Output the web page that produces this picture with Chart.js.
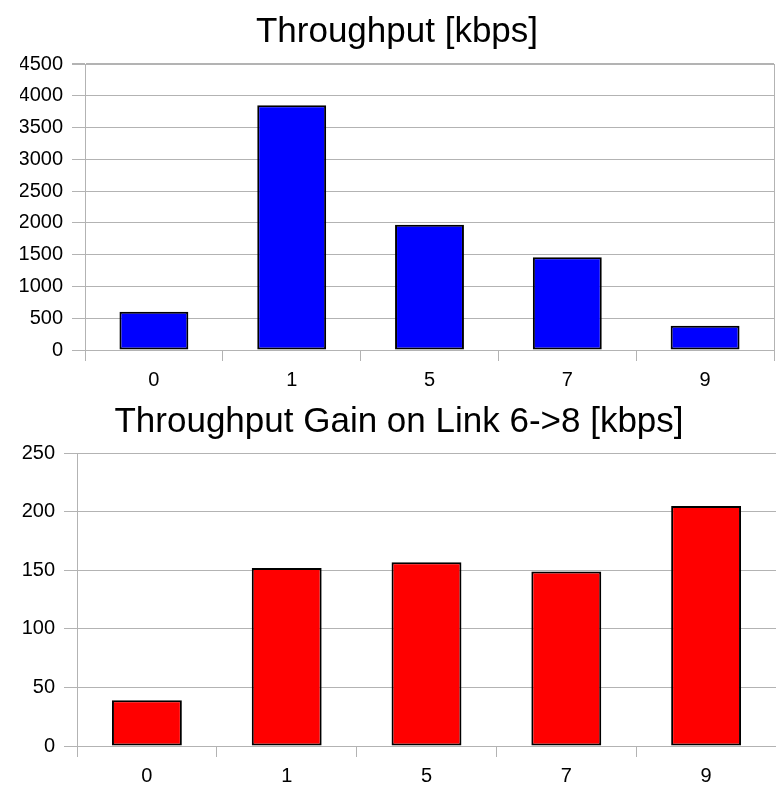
<!DOCTYPE html>
<html>
<head>
<meta charset="utf-8">
<script src="https://cdn.jsdelivr.net/npm/chart.js@4/dist/chart.umd.min.js"></script>
<style>
html,body{margin:0;padding:0;background:#fff;overflow:hidden;}
#wrap{position:relative;width:776px;height:785px;}
canvas{position:absolute;left:0;}
#c1{top:0;}
#c2{top:390px;}
</style>
</head>
<body>
<div id="wrap">
<canvas id="c1" width="776" height="390"></canvas>
<canvas id="c2" width="776" height="395"></canvas>
</div>
<script>
const categories = ['0', '1', '5', '7', '9'];
const throughput = [600, 3850, 1970, 1460, 380];
const gain = [39, 152, 157, 149, 205];
const title1 = 'Throughput [kbps]';
const title2 = 'Throughput Gain on Link 6->8 [kbps]';

const FONT = "'Liberation Sans', Arial, sans-serif";
const GRID = '#b3b3b3';

function makeChart(id, values, color, title, yMax, yStep, opts) {
  return new Chart(document.getElementById(id), {
    type: 'bar',
    data: {
      labels: categories,
      datasets: [{
        data: values,
        backgroundColor: color,
        borderColor: '#000',
        borderWidth: 2,
        borderSkipped: false,
        barPercentage: 0.5,
        categoryPercentage: 1.0
      }]
    },
    options: {
      responsive: false,
      animation: false,
      devicePixelRatio: 1,
      layout: { padding: { left: opts.padLeft, right: opts.padRight, top: 0, bottom: 0 } },
      plugins: {
        legend: { display: false },
        tooltip: { enabled: false },
        title: {
          display: true,
          text: title,
          color: '#000',
          font: { family: FONT, size: 35, weight: 'normal', lineHeight: 1.2 },
          padding: { top: opts.titleTop, bottom: opts.titleBottom }
        }
      },
      scales: {
        x: {
          afterFit: s => { s.height = opts.xHeight; },
          grid: {
            offset: true,
            drawOnChartArea: true,
            color: ctx => (opts.rightBorder && ctx.index === undefined) ? GRID : 'rgba(0,0,0,0)',
            tickColor: GRID,
            tickLength: 11,
            lineWidth: 1
          },
          border: { display: true, color: GRID, width: 1 },
          ticks: { color: '#000', font: { family: FONT, size: 20 }, padding: 7 }
        },
        y: {
          min: 0,
          max: yMax,
          afterFit: s => { s.width = opts.yWidth; },
          grid: {
            color: GRID,
            tickColor: GRID,
            tickLength: 13,
            lineWidth: ctx => (opts.thickTop && ctx.tick && ctx.tick.value === yMax) ? 2 : 1
          },
          border: { display: true, color: GRID, width: 1 },
          ticks: {
            stepSize: yStep,
            color: '#000',
            font: { family: FONT, size: 20 },
            padding: 9,
            callback: v => String(v)
          }
        }
      }
    }
  });
}

makeChart('c1', throughput, '#0000ff', title1, 4500, 500,
  { padLeft: 20, padRight: 2, titleTop: 11.5, titleBottom: 10.5, xHeight: 40, yWidth: 65, rightBorder: true, thickTop: true });
makeChart('c2', gain, '#ff0000', title2, 250, 50,
  { padLeft: 22, padRight: 0, titleTop: 11, titleBottom: 10.3, xHeight: 39, yWidth: 55, rightBorder: false, thickTop: false });
</script>
</body>
</html>
